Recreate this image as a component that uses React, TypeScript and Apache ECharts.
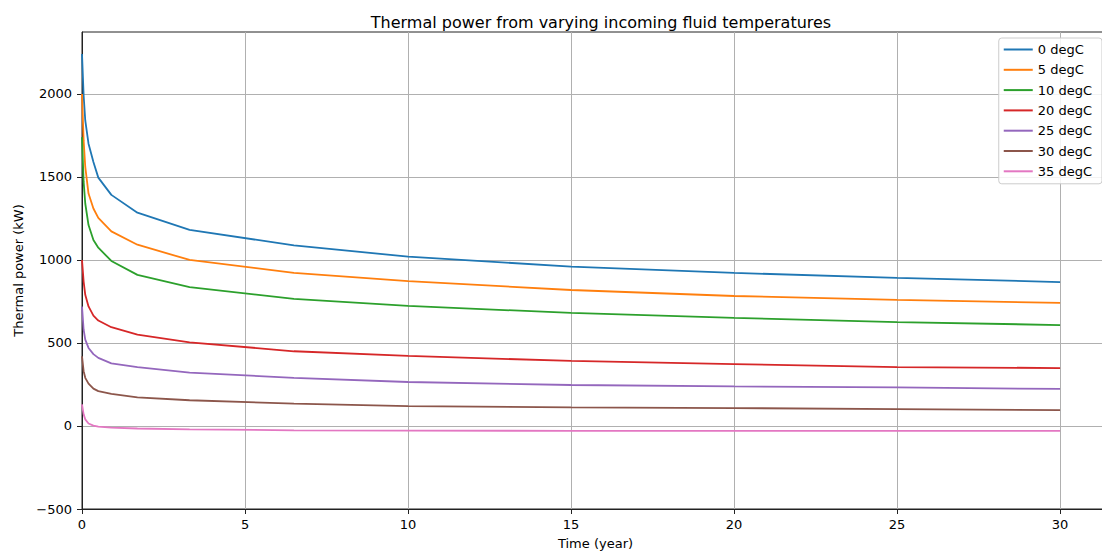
import React, { useEffect, useRef } from "react";
import * as echarts from "echarts";

const title = "Thermal power from varying incoming fluid temperatures";
const xName = "Time (year)";
const yName = "Thermal power (kW)";
const times = [0, 0.05, 0.1, 0.2, 0.35, 0.5, 0.9, 1.7, 3.3, 6.5, 10, 15, 20, 25, 30];
const seriesNames = ["0 degC", "5 degC", "10 degC", "20 degC", "25 degC", "30 degC", "35 degC"];
const colors = ["#1f77b4", "#ff7f0e", "#2ca02c", "#d62728", "#9467bd", "#8c564b", "#e377c2"];
const power0 = [2240, 1990, 1840, 1700, 1590, 1496, 1392, 1285, 1181, 1088, 1020, 960, 922, 892, 867];
const power5 = [2000, 1720, 1560, 1400, 1310, 1253, 1172, 1092, 1000, 922, 873, 819, 783, 759, 741];
const power10 = [1740, 1470, 1340, 1210, 1120, 1074, 994, 910, 836, 765, 723, 681, 651, 626, 608];
const power20 = [1000, 870, 790, 720, 665, 635, 595, 550, 504, 450, 422, 392, 373, 355, 349];
const power25 = [720, 580, 520, 470, 433, 410, 377, 354, 322, 290, 265, 247, 238, 232, 223];
const power30 = [420, 330, 290, 255, 225, 210, 194, 172, 155, 135, 120, 112, 108, 102, 96];
const power35 = [130, 70, 40, 15, 2, -4, -10, -15, -20, -26, -28, -29, -30, -30, -30];
const allPower = [power0, power5, power10, power20, power25, power30, power35];
const xTicks = [0, 5, 10, 15, 20, 25, 30];
const yTicks = [-500, 0, 500, 1000, 1500, 2000];

export default function App() {
  const ref = useRef<HTMLDivElement>(null);
  useEffect(() => {
    if (!ref.current) return;
    const chart = echarts.init(ref.current, null, { renderer: "svg" });
    const font = "DejaVu Sans";
    chart.setOption({
      animation: false,
      backgroundColor: "#ffffff",
      color: colors,
      title: {
        text: title,
        left: 596,
        top: 9,
        textAlign: "center",
        textStyle: { fontFamily: font, fontSize: 16, fontWeight: "normal", color: "#000" },
      },
      grid: {
        left: 82,
        top: 32,
        height: 477,
        width: 1027,
        outerBoundsMode: "none",
        containLabel: false,
        show: true,
        borderColor: "#222",
        borderWidth: 1,
        backgroundColor: "transparent",
      },
      legend: {
        right: 0,
        top: 38,
        orient: "vertical",
        data: seriesNames,
        icon: "rect",
        itemWidth: 29,
        itemHeight: 2,
        itemGap: 7.3,
        padding: [5, 10, 6, 5],
        backgroundColor: "rgba(255,255,255,0.85)",
        borderColor: "#cccccc",
        borderWidth: 1,
        borderRadius: 3,
        textStyle: { fontFamily: font, fontSize: 13, color: "#000", lineHeight: 13 },
      },
      xAxis: {
        type: "value",
        min: 0,
        max: 31.5,
        interval: 5,
        name: xName,
        nameLocation: "middle",
        nameGap: 28,
        nameTextStyle: { fontFamily: font, fontSize: 13, color: "#000" },
        axisLine: { show: true, onZero: false, lineStyle: { color: "#222", width: 1 } },
        axisTick: { show: true, length: 5, lineStyle: { color: "#222" }, customValues: xTicks },
        axisLabel: { fontFamily: font, fontSize: 13, color: "#000", margin: 9, customValues: xTicks },
        splitLine: { show: true, lineStyle: { color: "#b0b0b0", width: 1 } },
      },
      yAxis: {
        type: "value",
        min: -500,
        max: 2373,
        interval: 500,
        name: yName,
        nameLocation: "middle",
        nameGap: 54,
        nameTextStyle: { fontFamily: font, fontSize: 13, color: "#000" },
        axisLine: { show: true, onZero: false, lineStyle: { color: "#222", width: 1 } },
        axisTick: { show: true, length: 5, lineStyle: { color: "#222" }, customValues: yTicks },
        axisLabel: {
          fontFamily: font,
          fontSize: 13,
          color: "#000",
          margin: 10,
          customValues: yTicks,
          formatter: (v: number) => String(v).replace("-", "\u2212"),
        },
        splitLine: { show: true, lineStyle: { color: "#b0b0b0", width: 1 } },
      },
      series: seriesNames.map((name, i) => ({
        name,
        type: "line",
        showSymbol: false,
        symbol: "none",
        data: times.map((t, j) => [t, allPower[i][j]]),
        lineStyle: { width: 1.8, color: colors[i] },
        itemStyle: { color: colors[i] },
      })),
    });
    return () => chart.dispose();
  }, []);
  return (
    <div
      ref={ref}
      style={{ position: "fixed", left: 0, top: 0, width: 1102, height: 551, background: "#fff" }}
    />
  );
}
